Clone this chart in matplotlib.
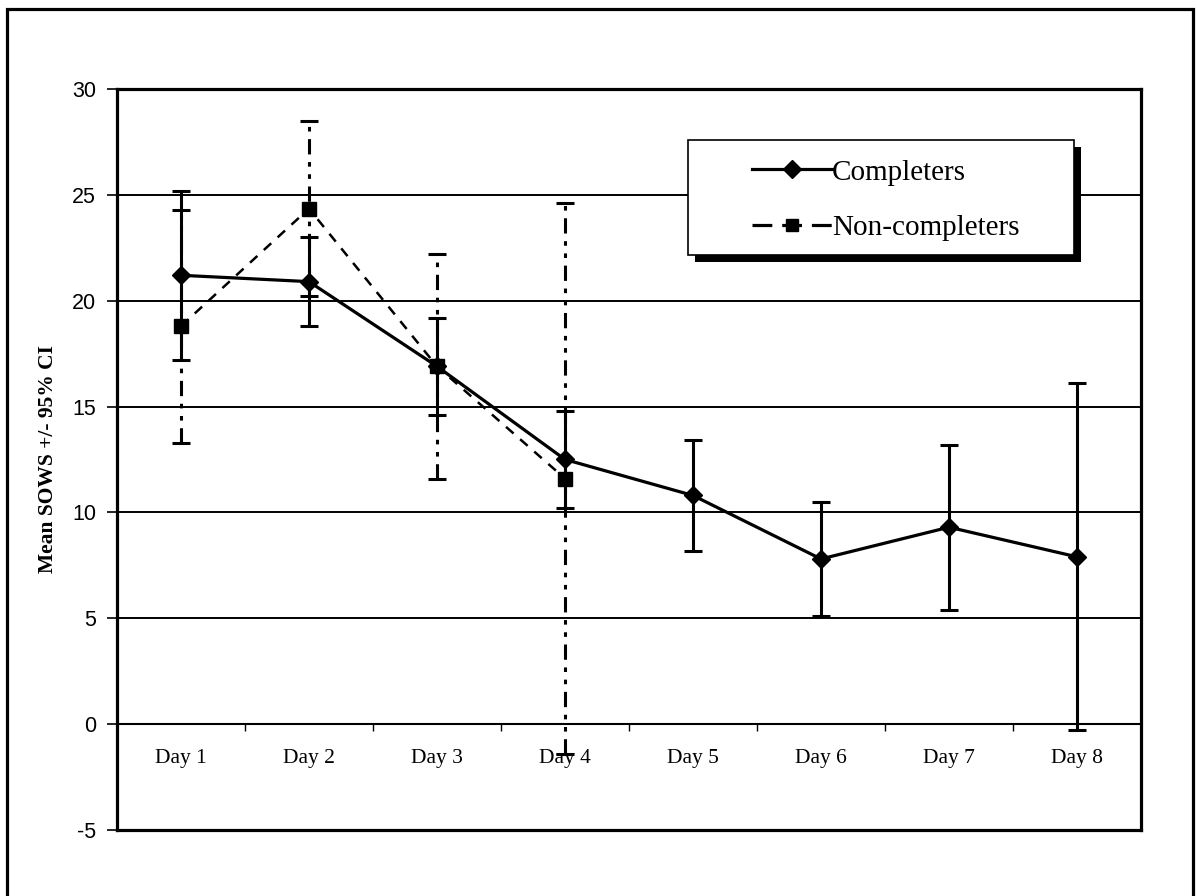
import matplotlib
matplotlib.use("Agg")
import matplotlib.pyplot as plt
from matplotlib.patches import Rectangle
from matplotlib.lines import Line2D
import numpy as np

days = ['Day 1', 'Day 2', 'Day 3', 'Day 4', 'Day 5', 'Day 6', 'Day 7', 'Day 8']
comp_mean = [21.2, 20.9, 16.9, 12.5, 10.8, 7.8, 9.3, 7.9]
comp_ci = [4.0, 2.1, 2.3, 2.3, 2.6, 2.7, 3.9, 8.2]
non_mean = [18.8, 24.35, 16.9, 11.6]
non_ci = [5.5, 4.15, 5.3, 13.0]
yticks = [-5, 0, 5, 10, 15, 20, 25, 30]

serif = ['Liberation Serif', 'DejaVu Serif']
sans = ['Liberation Sans', 'DejaVu Sans']

fig = plt.figure(figsize=(11.97, 8.96), dpi=100)
ax = fig.add_axes([0.0977, 0.0737, 0.8555, 0.827])

# outer page frame
fig.patches.append(Rectangle((0.0058, -0.02), 0.9909, 1.01, transform=fig.transFigure,
                             fill=False, lw=2.3, ec='black', zorder=0))

x = np.arange(1, len(days) + 1)
xn = x[:len(non_mean)]

# non-completers: dash-dot-dot error bars, dashed line
eb = ax.errorbar(xn, non_mean, yerr=non_ci, fmt='none', ecolor='black',
                 elinewidth=2.2, capsize=6.5, capthick=2.2, zorder=3)
eb[2][0].set_linestyle((0, (5, 2.5, 1.5, 2.5, 1.5, 2.5)))
ax.plot(xn, non_mean, color='black', lw=1.8, ls=(0, (4, 3.5)),
        marker='s', ms=10, mfc='black', mec='black', zorder=4)

# completers: solid
ax.errorbar(x, comp_mean, yerr=comp_ci, fmt='none', ecolor='black',
            elinewidth=2.2, capsize=6.5, capthick=2.2, zorder=5)
ax.plot(x, comp_mean, color='black', lw=2.3, marker='D', ms=9,
        mfc='black', mec='black', zorder=6)

ymin, ymax = -5, 30
ax.set_xlim(0.5, len(days) + 0.5)
ax.set_ylim(ymin, ymax)
ax.set_yticks(yticks)
ax.set_yticklabels([str(v) for v in yticks], family=sans, fontsize=15.5)
ax.tick_params(axis='y', direction='out', length=7, width=1.2, pad=8)
ax.set_xticks([])
ax.yaxis.grid(True, color='black', lw=1.4)
for s in ax.spines.values():
    s.set_linewidth(2.3)

ax.set_ylabel('Mean SOWS +/- 95% CI', family=serif, fontsize=15.5,
              fontweight='bold', labelpad=10)

# category axis sits on the zero line
sec = ax.secondary_xaxis((0 - ymin) / (ymax - ymin))
sec.spines['bottom'].set_linewidth(1.5)
sec.set_xticks(x)
sec.set_xticklabels(days, family=serif, fontsize=15.5)
sec.set_xticks(np.arange(1.5, len(days), 1.0), minor=True)
sec.tick_params(axis='x', which='major', length=0, pad=18)
sec.tick_params(axis='x', which='minor', direction='out', length=5, width=1)

# legend box with a solid drop shadow
box = (0.5576, 0.776, 0.377, 0.155)
ax.add_patch(Rectangle((box[0] + 0.0068, box[1] - 0.0094), box[2], box[3],
                       transform=ax.transAxes, fc='black', ec='none', zorder=9))
ax.add_patch(Rectangle(box[:2], box[2], box[3], transform=ax.transAxes,
                       fc='white', ec='black', lw=1.2, zorder=10))

handles = [
    Line2D([], [], color='black', lw=2.3, marker='D', ms=9),
    Line2D([], [], color='black', lw=2.3, ls=(0, (6.2, 3.1)), marker='s', ms=9),
]
leg = ax.legend(handles, ['Completers', 'Non-completers'], loc='center left',
                bbox_to_anchor=(0.620, 0.850), prop={'family': serif, 'size': 21},
                frameon=False, handlelength=2.74, handletextpad=0.0, borderpad=0,
                labelspacing=1.0, borderaxespad=0)
leg.set_zorder(11)

fig.savefig('out.png', dpi=100)
